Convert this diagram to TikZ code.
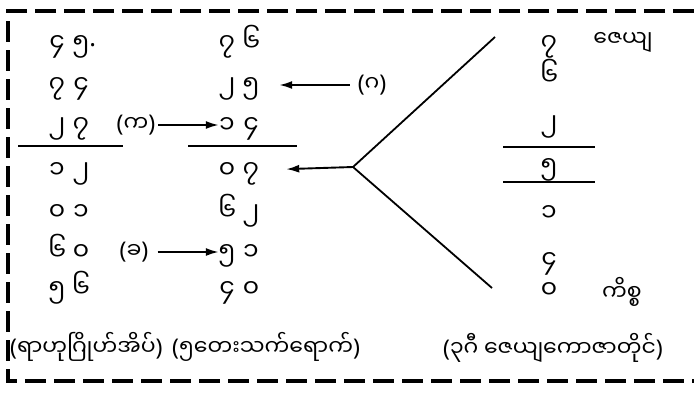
\documentclass[tikz,border=0pt]{standalone}
\usepackage{fontspec}
\newfontfamily\mya[Script=Myanmar]{Noto Sans Myanmar UI}
\newfontfamily\latin{Noto Sans}
\usetikzlibrary{arrows.meta}
\newcommand{\digitpair}[2]{\makebox[16pt]{#1}\hspace{8pt}\makebox[16pt]{#2}}
\newcommand{\paren}[1]{{\latin\fontsize{23}{26}\selectfont(}#1{\latin\fontsize{23}{26}\selectfont)}}
\tikzset{
  num/.style={font=\mya\fontsize{25}{28}\selectfont, inner sep=0pt, text height=17pt, text depth=0pt},
  lbl/.style={font=\mya\fontsize{22}{26}\selectfont, inner sep=0pt},
  pointer/.style={-{Latex[length=13pt,width=8pt]}, line width=1.9pt},
  rule/.style={line width=1.6pt},
  branch/.style={line width=1.8pt},
  frame/.style={line width=3.5pt, dash pattern=on 21pt off 8pt}
}

\begin{document}
\begin{tikzpicture}[x=1pt,y=-1pt]
\useasboundingbox (0,0) rectangle (694,394);

% FRAME
\draw[frame] (694,11) -- (8,11) -- (8,381) -- (694,381);

% LEFT COLUMN
\node[num] (l1) at (69,43)  {\digitpair{၄}{၅\rlap{\latin\raisebox{5pt}{.}}}};
\node[num] (l2) at (69,85)  {\digitpair{၇}{၄}};
\node[num] (l3) at (69,125) {\digitpair{၂}{၇}};
\node[num] (l4) at (69,170) {\digitpair{၁}{၂}};
\node[num] (l5) at (69,212) {\digitpair{၀}{၁}};
\node[num] (l6) at (69,252) {\digitpair{၆}{၀}};
\node[num] (l7) at (69,289) {\digitpair{၅}{၆}};

\draw[rule] (18,146) -- (123,146);

% MIDDLE COLUMN
\node[num] (m1) at (239,43)  {\digitpair{၇}{၆}};
\node[num] (m2) at (239,85)  {\digitpair{၂}{၅}};
\node[num] (m3) at (239,125) {\digitpair{၁}{၄}};
\node[num] (m4) at (239,170) {\digitpair{၀}{၇}};
\node[num] (m5) at (239,212) {\digitpair{၆}{၂}};
\node[num] (m6) at (239,252) {\digitpair{၅}{၁}};
\node[num] (m7) at (239,289) {\digitpair{၄}{၀}};

\draw[rule] (188,146) -- (297,146);

% RIGHT COLUMN
\node[num] (r1) at (549,43)  {၇};
\node[num] (r2) at (549,77)  {၆};
\node[num] (r3) at (549,123) {၂};
\node[num] (r4) at (549,166) {၅};
\node[num] (r5) at (549,213) {၁};
\node[num] (r6) at (549,260) {၄};
\node[num] (r7) at (549,290) {၀};

\draw[rule] (503,147) -- (595,147);
\draw[rule] (503,182) -- (595,182);

\node[lbl] (jeyya) at (623,42)  {ဇေယျ};
\node[lbl] (kicca) at (622,292) {ကိစ္စ};

% MARKS
\node[lbl] (ka)  at (136,125) {\paren{က}};
\node[lbl] (kha) at (134,252) {\paren{ခ}};
\node[lbl] (ga)  at (372,85)  {\paren{ဂ}};

% ARROWS
\draw[pointer, shorten <=8pt, shorten >=20pt] (ga.west) -- (m2.east);
\draw[pointer, shorten <=3pt] (ka.east) -- (m3.west);
\draw[pointer, shorten <=9pt] (kha.east) -- (m6.west);

\coordinate (fork) at (353,167);
\coordinate (forkup) at (495,37);
\coordinate (forkdown) at (492,288);
\draw[branch] (forkup) -- (fork) -- (forkdown);
\draw[pointer, shorten >=27pt] (fork) -- (m4.east);

% NOTES
\node[lbl, anchor=west] (rahu)  at (10,347)  {\paren{ရာဟုဂြိုဟ်အိပ်}};
\node[lbl, anchor=west] (tay)   at (172,347) {\paren{၅တေးသက်ရောက်}};
\node[lbl, anchor=west] (graha) at (443,348) {\paren{၃ဂီ ဇေယျကောဇာတိုင်}};

\end{tikzpicture}
\end{document}
